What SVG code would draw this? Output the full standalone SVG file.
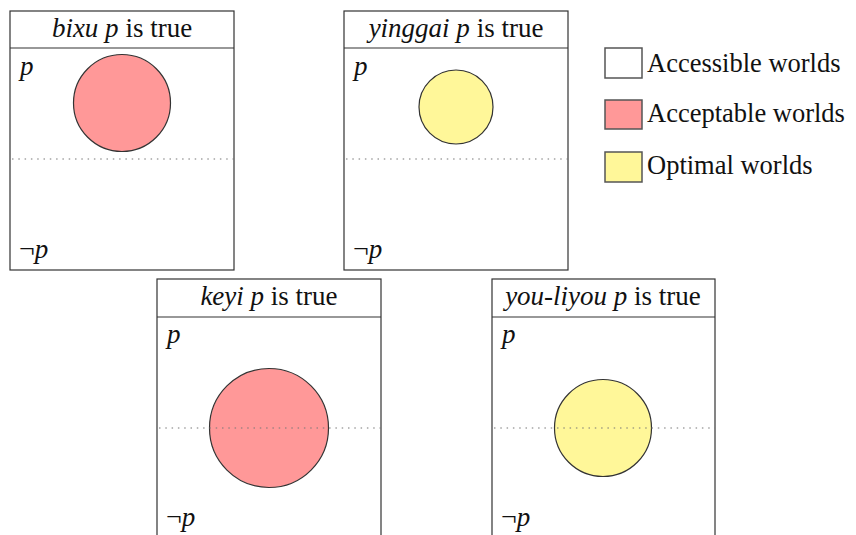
<svg xmlns="http://www.w3.org/2000/svg" width="856" height="535" viewBox="0 0 856 535">
<style>
.frame{fill:#fff;stroke:#333;stroke-width:1.2}
.hdr{fill:none;stroke:#333;stroke-width:1.2}
.dot{stroke:#777;stroke-width:1.2;stroke-dasharray:1.5 4.8}
.acc{fill:#ff9898;stroke:#333;stroke-width:1.2}
.opt{fill:#fff799;stroke:#333;stroke-width:1.2}
text{font-family:"Liberation Serif","Times New Roman",serif;fill:#111}
.t{font-size:27px;text-anchor:middle}
.l{font-size:27px;font-style:italic}
.n{font-style:normal;font-size:28px}
.lg{font-size:26.5px}
.i{font-style:italic}
.key{stroke:#555;stroke-width:1.5}
</style>
<rect width="856" height="535" fill="#fff"/>
<g id="bixu">
<rect class="frame" x="10" y="11" width="224" height="259"/>
<line class="hdr" x1="10" y1="48" x2="234" y2="48"/>
<text class="t" x="122" y="37"><tspan class="i">bixu p</tspan> is true</text>
<line class="dot" x1="12" y1="159" x2="234" y2="159"/>
<circle class="acc" cx="122" cy="103" r="48.5"/>
<text class="l" x="20" y="75">p</text>
<text class="l" x="19" y="258"><tspan class="n">¬</tspan>p</text>
</g>
<g id="yinggai">
<rect class="frame" x="344" y="11" width="224" height="259"/>
<line class="hdr" x1="344" y1="48" x2="568" y2="48"/>
<text class="t" x="456" y="37"><tspan class="i">yinggai p</tspan> is true</text>
<line class="dot" x1="346" y1="159" x2="568" y2="159"/>
<circle class="opt" cx="456" cy="107" r="37"/>
<text class="l" x="354" y="75">p</text>
<text class="l" x="353" y="258"><tspan class="n">¬</tspan>p</text>
</g>
<g id="keyi">
<rect class="frame" x="157" y="279" width="224" height="270"/>
<line class="hdr" x1="157" y1="317" x2="381" y2="317"/>
<text class="t" x="269" y="305"><tspan class="i">keyi p</tspan> is true</text>
<circle class="acc" cx="269" cy="428" r="59.5"/>
<line class="dot" x1="159" y1="428" x2="381" y2="428"/>
<text class="l" x="167" y="343">p</text>
<text class="l" x="166" y="526"><tspan class="n">¬</tspan>p</text>
</g>
<g id="youliyou">
<rect class="frame" x="492" y="279" width="223" height="270"/>
<line class="hdr" x1="492" y1="317" x2="715" y2="317"/>
<text class="t" x="603" y="305"><tspan class="i">you-liyou p</tspan> is true</text>
<circle class="opt" cx="603" cy="428" r="48.5"/>
<line class="dot" x1="494" y1="428" x2="715" y2="428"/>
<text class="l" x="502" y="343">p</text>
<text class="l" x="501" y="526"><tspan class="n">¬</tspan>p</text>
</g>
<g id="legend">
<rect class="key" x="605" y="48" width="37" height="30" fill="#fff"/>
<text class="lg" x="647" y="72">Accessible worlds</text>
<rect class="key" x="605" y="100" width="37" height="29" fill="#ff9898"/>
<text class="lg" x="647" y="122">Acceptable worlds</text>
<rect class="key" x="605" y="152" width="37" height="30" fill="#fff799"/>
<text class="lg" x="647" y="174">Optimal worlds</text>
</g>
<g id="connectors"/>
</svg>
